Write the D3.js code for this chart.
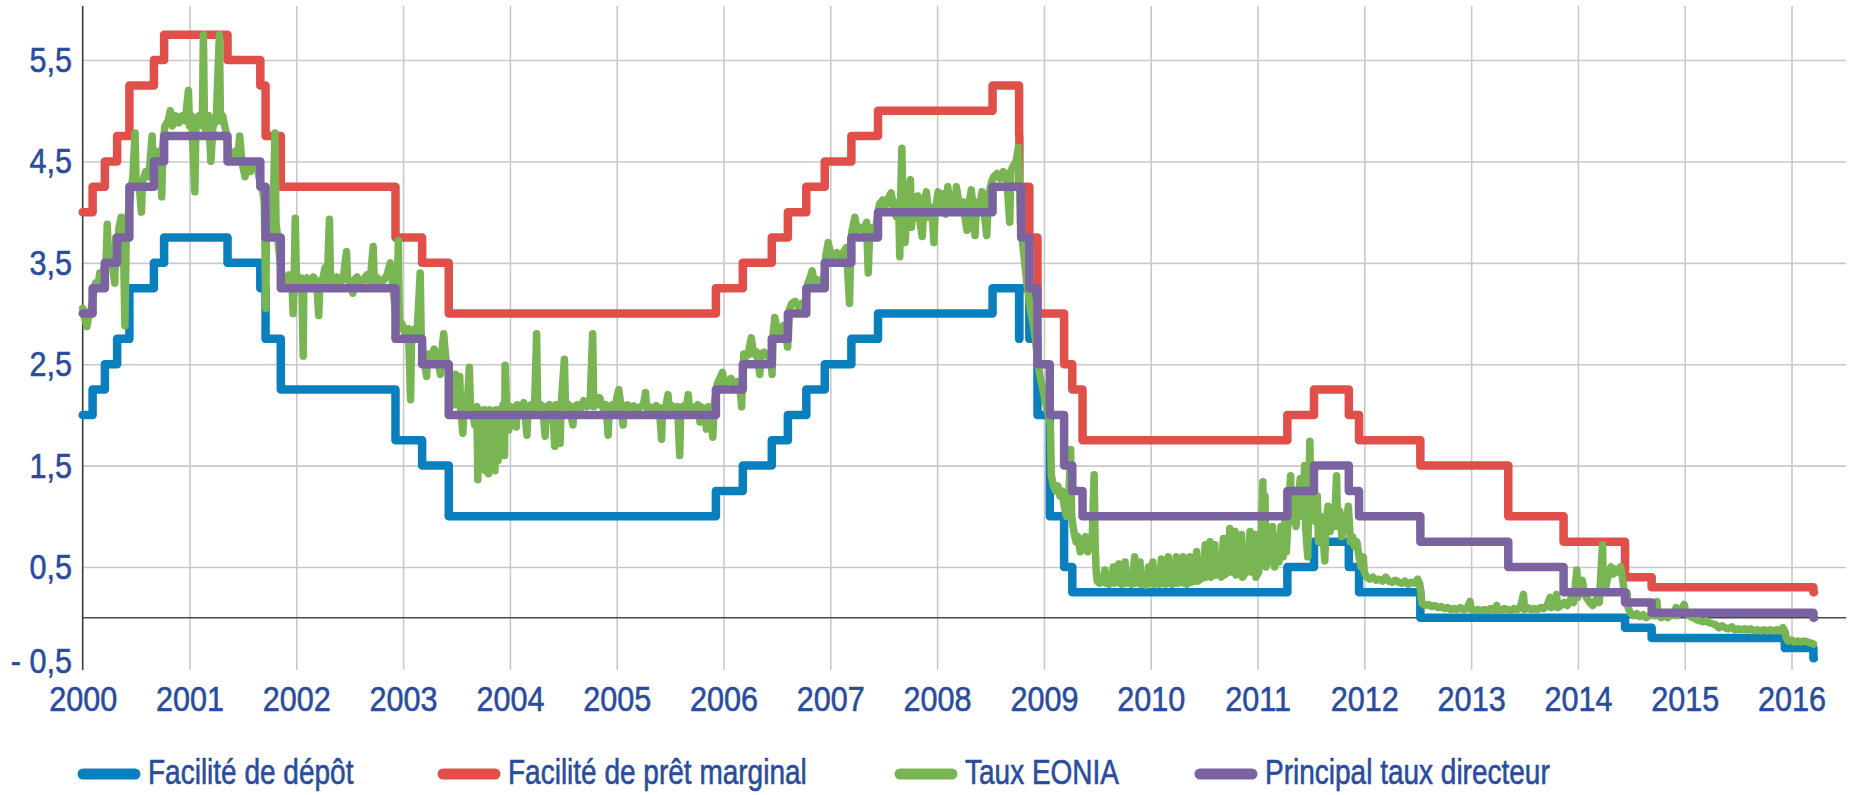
<!DOCTYPE html>
<html>
<head>
<meta charset="utf-8">
<script src="https://cdn.jsdelivr.net/npm/d3@7"></script>
<style>
  html, body { margin: 0; padding: 0; background: #ffffff; }
  svg { display: block; }
  text { font-family: "Liberation Sans", Arial, sans-serif; fill: #2a4c9c; stroke: #2a4c9c; stroke-width: 0.6px; }
</style>
</head>
<body>
<svg id="chart" width="1849" height="795"></svg>
<script>
// ---------------- DATA ----------------
const seriesNames = ["Facilité de dépôt", "Facilité de prêt marginal", "Taux EONIA", "Principal taux directeur"];
const seriesColors = ["#0a7fbd", "#e04f4a", "#79b553", "#7b63a1"];

const yearTicks = [2000, 2001, 2002, 2003, 2004, 2005, 2006, 2007, 2008, 2009, 2010, 2011, 2012, 2013, 2014, 2015, 2016];
const rateTicks = [-0.5, 0.5, 1.5, 2.5, 3.5, 4.5, 5.5];

// ECB policy rates: change dates and values in force from that date
const policyDates = ["2000-01-01","2000-02-04","2000-03-17","2000-04-28","2000-06-09","2000-09-01","2000-10-06",
  "2001-05-11","2001-08-31","2001-09-18","2001-11-09","2002-12-06","2003-03-07","2003-06-06","2005-12-06",
  "2006-03-08","2006-06-15","2006-08-09","2006-10-11","2006-12-13","2007-03-14","2007-06-13","2008-07-09",
  "2008-10-08","2008-10-09","2008-10-15","2008-11-12","2008-12-10","2009-01-21","2009-03-11","2009-04-08",
  "2009-05-13","2011-04-13","2011-07-13","2011-11-09","2011-12-14","2012-07-11","2013-05-08","2013-11-13",
  "2014-06-11","2014-09-10","2015-12-09","2016-03-16","2016-03-18"];
const depositRate = [2.00,2.25,2.50,2.75,3.25,3.50,3.75,
  3.50,3.25,2.75,2.25,1.75,1.50,1.00,1.25,
  1.50,1.75,2.00,2.25,2.50,2.75,3.00,3.25,
  2.75,3.25,3.25,2.75,2.00,1.00,0.50,0.25,
  0.25,0.50,0.75,0.50,0.25,0.00,0.00,0.00,
  -0.10,-0.20,-0.30,-0.40,-0.40];
const marginalRate = [4.00,4.25,4.50,4.75,5.25,5.50,5.75,
  5.50,5.25,4.75,4.25,3.75,3.50,3.00,3.25,
  3.50,3.75,4.00,4.25,4.50,4.75,5.00,5.25,
  4.75,4.25,4.25,3.75,3.00,3.00,2.50,2.25,
  1.75,2.00,2.25,2.00,1.75,1.50,1.00,0.75,
  0.40,0.30,0.30,0.25,0.25];
const mainRate = [3.00,3.25,3.50,3.75,4.25,4.50,4.75,
  4.50,4.25,3.75,3.25,2.75,2.50,2.00,2.25,
  2.50,2.75,3.00,3.25,3.50,3.75,4.00,4.25,
  4.25,4.25,3.75,3.25,2.50,2.00,1.50,1.25,
  1.00,1.25,1.50,1.25,1.00,0.75,0.50,0.25,
  0.15,0.05,0.05,0.00,0.00];

// EONIA: [decimal year, rate]
const eonia = [
[2000.00,3.05],[2000.02,2.95],[2000.04,2.87],[2000.06,3.0],[2000.08,3.05],
[2000.10,3.2],[2000.12,3.3],[2000.14,3.25],[2000.16,3.4],[2000.18,3.3],[2000.20,3.45],
[2000.22,3.55],[2000.23,3.88],[2000.24,3.6],[2000.27,3.55],[2000.30,3.3],[2000.31,3.75],[2000.32,3.6],
[2000.34,3.85],[2000.36,3.95],[2000.38,3.8],[2000.395,2.88],[2000.41,3.9],[2000.43,4.0],
[2000.45,4.2],[2000.47,4.35],[2000.49,4.78],[2000.50,4.3],[2000.53,4.25],[2000.55,4.0],[2000.56,4.3],[2000.59,4.4],[2000.62,4.35],[2000.65,4.75],[2000.66,4.4],
[2000.68,4.55],[2000.70,4.6],[2000.72,4.55],[2000.74,4.15],[2000.75,4.65],
[2000.77,4.85],[2000.80,4.9],[2000.82,5.0],[2000.84,4.85],[2000.87,4.95],[2000.90,4.88],[2000.93,4.95],[2000.96,4.9],[2000.99,5.2],[2001.00,4.85],[2001.02,4.95],[2001.05,4.2],[2001.06,4.85],[2001.09,4.95],[2001.12,4.85],[2001.13,5.75],[2001.14,4.9],[2001.16,4.75],[2001.18,4.95],[2001.20,4.5],[2001.22,4.85],[2001.25,4.9],[2001.28,5.75],[2001.29,4.9],[2001.31,4.95],[2001.34,4.8],
[2001.37,4.6],[2001.40,4.55],[2001.43,4.6],[2001.45,4.5],[2001.47,4.75],[2001.49,4.5],[2001.52,4.35],[2001.54,4.45],[2001.57,4.4],[2001.60,4.5],[2001.63,4.45],[2001.66,4.3],
[2001.68,4.25],[2001.70,4.1],
[2001.715,3.05],[2001.72,3.8],[2001.75,3.75],[2001.78,3.85],[2001.80,4.78],[2001.81,3.9],[2001.84,3.6],[2001.855,3.45],
[2001.87,3.35],[2001.90,3.3],[2001.93,3.38],[2001.96,3.3],[2001.97,3.0],[2001.98,3.35],[2001.99,3.94],[2002.00,3.4],[2002.03,3.3],[2002.05,3.35],[2002.065,2.58],[2002.07,3.3],[2002.10,3.35],[2002.13,3.3],[2002.16,3.36],[2002.19,3.32],[2002.21,2.98],[2002.22,3.3],[2002.25,3.35],[2002.27,3.45],[2002.29,3.32],[2002.31,3.93],[2002.32,3.35],[2002.35,3.3],[2002.38,3.36],[2002.41,3.3],[2002.44,3.35],[2002.47,3.61],[2002.48,3.33],[2002.51,3.3],[2002.53,3.2],[2002.54,3.33],[2002.57,3.36],[2002.60,3.3],[2002.63,3.33],[2002.66,3.38],[2002.69,3.3],[2002.72,3.66],[2002.73,3.3],[2002.76,3.35],[2002.79,3.3],[2002.82,3.33],[2002.85,3.38],[2002.88,3.5],[2002.90,3.3],[2002.92,3.1],
[2002.94,2.9],[2002.955,3.72],[2002.965,2.85],[2002.99,2.9],[2003.02,2.8],[2003.05,2.85],[2003.07,2.15],[2003.08,2.8],[2003.11,2.85],[2003.13,2.78],[2003.16,3.4],[2003.17,2.75],
[2003.19,2.6],[2003.22,2.38],[2003.23,2.6],[2003.26,2.55],[2003.29,2.65],[2003.32,2.58],[2003.35,2.4],[2003.36,2.6],[2003.38,2.8],[2003.40,2.55],[2003.42,2.5],
[2003.45,2.15],[2003.47,2.1],[2003.49,2.4],[2003.50,2.1],[2003.52,2.12],[2003.53,2.38],[2003.54,2.05],[2003.56,1.82],[2003.57,2.1],[2003.60,2.08],[2003.62,2.47],[2003.63,2.1],[2003.65,2.05],[2003.67,1.9],[2003.69,2.08],[2003.70,1.36],[2003.71,2.05],[2003.72,1.5],[2003.73,2.0],[2003.745,1.6],[2003.76,2.05],[2003.77,1.45],[2003.78,2.0],[2003.80,1.42],[2003.81,2.05],[2003.83,1.7],[2003.84,2.0],[2003.86,1.45],[2003.87,2.05],[2003.89,1.55],[2003.90,2.05],[2003.92,1.75],[2003.935,2.1],[2003.95,1.6],[2003.955,2.49],[2003.97,2.05],[2003.99,1.85],[2004.01,2.08],[2004.04,2.05],[2004.06,1.88],[2004.07,2.1],[2004.10,2.05],[2004.13,2.12],[2004.16,1.8],[2004.17,2.08],[2004.20,2.1],[2004.23,2.05],[2004.25,2.8],[2004.26,2.08],[2004.29,2.1],[2004.31,2.05],[2004.33,1.79],[2004.34,2.08],[2004.37,2.1],[2004.40,2.05],[2004.42,1.69],[2004.43,2.1],[2004.45,2.08],[2004.47,1.72],[2004.48,2.1],[2004.51,2.55],[2004.52,2.08],[2004.55,2.1],[2004.59,1.9],[2004.60,2.08],[2004.63,2.1],[2004.66,2.06],[2004.69,2.14],[2004.72,2.08],[2004.75,2.1],[2004.775,2.8],[2004.785,2.08],[2004.81,2.1],[2004.84,2.17],[2004.87,2.07],[2004.90,2.1],[2004.92,1.8],[2004.93,2.08],[2004.96,2.1],[2004.99,2.05],[2005.00,2.17],[2005.02,2.25],[2005.04,2.08],[2005.06,1.9],[2005.07,2.08],[2005.10,2.1],[2005.13,2.07],[2005.16,2.09],[2005.19,2.05],[2005.22,2.08],[2005.25,2.1],[2005.27,2.22],[2005.28,2.07],[2005.31,2.08],[2005.34,2.06],[2005.37,2.09],[2005.40,2.06],[2005.42,1.76],[2005.43,2.07],[2005.46,2.08],[2005.48,2.2],[2005.49,2.07],[2005.52,2.09],[2005.545,2.06],[2005.57,2.08],[2005.59,1.6],[2005.60,2.07],[2005.63,2.09],[2005.65,2.06],[2005.67,2.2],[2005.68,2.07],[2005.71,2.08],[2005.74,2.06],[2005.76,2.1],[2005.78,1.93],[2005.79,2.08],[2005.82,2.06],[2005.84,1.86],[2005.86,2.08],[2005.88,2.05],[2005.90,1.78],[2005.91,2.08],
[2005.94,2.3],[2005.96,2.35],[2005.99,2.42],[2006.01,2.3],[2006.04,2.33],[2006.07,2.36],[2006.10,2.3],[2006.13,2.33],[2006.15,2.32],[2006.17,2.08],[2006.175,2.3],
[2006.19,2.6],[2006.22,2.58],[2006.24,2.65],[2006.26,2.76],[2006.28,2.6],[2006.31,2.62],[2006.34,2.4],[2006.35,2.6],[2006.38,2.62],[2006.41,2.58],[2006.44,2.62],
[2006.455,2.4],[2006.465,2.8],[2006.48,2.96],[2006.50,2.85],[2006.53,2.82],[2006.56,2.88],[2006.58,2.83],[2006.60,2.67],
[2006.62,3.05],[2006.64,3.1],[2006.67,3.12],[2006.70,3.07],[2006.73,3.1],[2006.76,3.05],
[2006.79,3.3],[2006.81,3.35],[2006.83,3.42],[2006.85,3.3],[2006.88,3.33],[2006.91,3.3],[2006.94,3.36],
[2006.96,3.58],[2006.98,3.7],[2007.00,3.6],[2007.03,3.57],[2007.06,3.6],[2007.09,3.56],[2007.12,3.6],[2007.15,3.65],[2007.18,3.1],[2007.19,3.6],
[2007.20,3.8],[2007.23,3.95],[2007.25,3.82],[2007.28,3.85],[2007.31,3.82],[2007.34,3.9],[2007.355,3.4],[2007.37,3.85],[2007.40,3.82],[2007.43,3.88],
[2007.46,4.08],[2007.49,4.12],[2007.52,4.07],[2007.55,4.15],[2007.57,4.19],[2007.59,4.05],[2007.62,3.95],[2007.64,4.1],[2007.65,3.56],[2007.66,4.2],[2007.67,4.63],[2007.68,4.1],[2007.70,3.7],[2007.72,4.1],[2007.75,4.32],[2007.76,3.85],[2007.78,4.15],[2007.80,3.95],[2007.82,4.16],[2007.84,3.9],[2007.86,3.76],[2007.88,4.1],[2007.90,4.2],[2007.92,3.95],[2007.95,4.05],[2007.97,3.7],[2007.98,4.0],[2008.01,4.2],[2008.03,4.05],[2008.06,4.18],[2008.08,3.98],[2008.10,4.25],[2008.12,4.05],[2008.15,4.15],[2008.17,4.0],[2008.18,4.25],[2008.21,4.05],[2008.245,4.1],[2008.26,3.95],[2008.28,3.82],[2008.30,4.1],[2008.32,4.22],[2008.34,4.0],[2008.355,3.77],[2008.37,4.1],[2008.40,4.05],[2008.42,4.2],[2008.44,4.0],[2008.465,3.77],[2008.48,4.15],[2008.51,4.3],
[2008.53,4.35],[2008.56,4.38],[2008.59,4.33],[2008.62,4.4],[2008.65,4.36],[2008.68,3.9],[2008.69,4.4],[2008.71,4.45],[2008.74,4.5],[2008.76,4.64],[2008.77,4.3],[2008.78,3.9],[2008.80,3.7],[2008.82,3.5],[2008.84,3.3],[2008.86,3.15],[2008.88,3.0],[2008.90,2.9],[2008.92,2.75],[2008.94,2.55],[2008.96,2.4],[2008.98,2.3],
[2009.00,2.2],[2009.02,2.1],[2009.04,2.0],[2009.06,1.9],[2009.07,1.4],[2009.09,1.3],[2009.11,1.25],[2009.13,1.3],[2009.15,1.2],[2009.17,1.25],[2009.19,1.1],
[2009.21,1.0],[2009.23,1.1],[2009.25,1.66],[2009.26,1.0],
[2009.28,0.85],[2009.30,0.75],[2009.32,0.8],[2009.34,0.65],
[2009.37,0.75],[2009.39,0.8],[2009.41,0.65],[2009.43,0.78],[2009.45,0.7],[2009.47,1.41],[2009.48,0.7],[2009.49,0.45],[2009.50,0.36],
[2009.52,0.34],[2009.55,0.35],[2009.57,0.47],[2009.58,0.34],[2009.61,0.33],[2009.63,0.36],[2009.65,0.5],[2009.66,0.34],[2009.68,0.35],[2009.70,0.53],[2009.71,0.34],[2009.73,0.33],[2009.76,0.55],[2009.77,0.34],[2009.80,0.35],[2009.82,0.33],[2009.85,0.6],[2009.86,0.34],[2009.88,0.35],[2009.90,0.55],[2009.91,0.33],[2009.94,0.34],[2009.96,0.32],[2009.98,0.5],[2009.99,0.34],[2010.02,0.55],[2010.03,0.33],[2010.06,0.35],[2010.08,0.33],[2010.10,0.58],[2010.11,0.34],[2010.14,0.33],[2010.165,0.6],[2010.175,0.34],[2010.20,0.33],[2010.22,0.35],[2010.24,0.6],[2010.25,0.34],[2010.28,0.35],[2010.305,0.6],[2010.315,0.34],[2010.34,0.33],[2010.37,0.6],[2010.38,0.35],[2010.41,0.36],[2010.43,0.65],[2010.44,0.36],[2010.47,0.38],[2010.49,0.4],[2010.51,0.72],[2010.52,0.4],[2010.555,0.75],[2010.565,0.4],[2010.58,0.45],[2010.60,0.72],[2010.61,0.42],[2010.64,0.45],[2010.66,0.4],[2010.68,0.78],[2010.69,0.42],[2010.72,0.45],[2010.74,0.88],[2010.75,0.45],[2010.77,0.5],[2010.79,0.85],[2010.80,0.42],[2010.83,0.45],[2010.85,0.82],[2010.86,0.4],[2010.89,0.45],[2010.91,0.5],[2010.93,0.85],[2010.94,0.45],[2010.975,0.82],[2010.985,0.4],
[2011.01,0.45],[2011.03,0.65],[2011.05,1.34],[2011.06,0.6],[2011.07,1.2],[2011.08,0.5],[2011.10,0.85],[2011.12,0.55],[2011.14,0.9],[2011.16,0.5],[2011.18,0.8],[2011.20,0.55],[2011.22,0.9],[2011.24,0.6],[2011.26,1.0],[2011.27,0.65],
[2011.29,1.05],[2011.31,1.4],[2011.32,0.95],[2011.34,1.1],[2011.36,0.9],[2011.38,1.15],[2011.40,1.37],[2011.41,1.0],[2011.43,1.1],[2011.44,1.5],[2011.45,0.9],[2011.47,0.6],[2011.48,1.2],[2011.49,1.74],[2011.50,1.1],[2011.52,1.2],
[2011.54,0.95],[2011.56,1.2],[2011.57,0.75],[2011.59,1.0],[2011.61,0.85],[2011.63,0.56],[2011.64,0.9],[2011.66,1.1],[2011.68,0.85],[2011.70,1.0],[2011.72,0.9],[2011.74,1.4],[2011.75,0.9],[2011.77,1.05],[2011.79,0.8],[2011.81,1.0],[2011.83,0.9],[2011.85,1.1],
[2011.87,0.75],[2011.89,0.8],[2011.91,0.7],[2011.93,0.75],
[2011.95,0.6],[2011.97,0.5],[2011.99,0.6],[2012.00,0.45],[2012.02,0.4],[2012.05,0.38],[2012.08,0.4],[2012.11,0.37],[2012.14,0.38],[2012.17,0.36],[2012.20,0.4],[2012.23,0.36],[2012.26,0.35],[2012.29,0.37],[2012.32,0.35],[2012.35,0.34],[2012.38,0.36],[2012.41,0.33],[2012.44,0.35],[2012.47,0.34],[2012.50,0.38],[2012.52,0.33],
[2012.54,0.14],[2012.57,0.12],[2012.60,0.13],[2012.63,0.11],[2012.66,0.12],[2012.69,0.1],[2012.72,0.11],[2012.75,0.09],[2012.78,0.1],[2012.81,0.08],[2012.84,0.09],[2012.87,0.08],[2012.90,0.1],[2012.93,0.08],[2012.96,0.09],[2012.99,0.16],[2013.00,0.08],[2013.03,0.07],[2013.06,0.08],[2013.09,0.07],[2013.12,0.08],[2013.15,0.07],[2013.18,0.09],[2013.21,0.07],[2013.24,0.12],[2013.25,0.08],[2013.28,0.07],[2013.31,0.09],[2013.34,0.08],[2013.37,0.07],[2013.40,0.09],[2013.43,0.08],[2013.46,0.1],[2013.49,0.23],[2013.50,0.08],[2013.53,0.1],[2013.56,0.08],[2013.59,0.09],[2013.62,0.08],[2013.65,0.1],[2013.68,0.09],[2013.71,0.12],[2013.74,0.2],[2013.75,0.1],[2013.77,0.12],[2013.80,0.23],[2013.81,0.1],[2013.84,0.12],
[2013.87,0.15],[2013.90,0.12],[2013.93,0.18],[2013.96,0.15],[2013.99,0.47],[2014.00,0.2],[2014.03,0.3],[2014.04,0.37],[2014.06,0.25],[2014.08,0.2],[2014.11,0.15],[2014.14,0.12],[2014.17,0.18],[2014.20,0.15],[2014.23,0.72],[2014.24,0.25],[2014.26,0.3],[2014.29,0.45],[2014.31,0.5],[2014.33,0.43],[2014.35,0.48],[2014.38,0.45],[2014.40,0.5],[2014.42,0.37],[2014.44,0.2],
[2014.46,0.25],[2014.47,0.1],[2014.49,0.05],[2014.52,0.02],[2014.55,0.04],[2014.58,0.01],[2014.61,0.03],[2014.64,0.0],[2014.67,0.02],
[2014.70,0.05],[2014.72,0.02],[2014.74,0.16],[2014.75,0.03],[2014.78,0.0],[2014.81,0.02],[2014.84,0.0],[2014.87,0.03],[2014.90,0.05],[2014.92,0.1],[2014.93,0.02],[2014.96,0.06],[2014.995,0.13],[2015.01,0.05],[2015.04,0.02],[2015.07,0.0],[2015.10,0.05],[2015.11,-0.02],[2015.14,-0.03],[2015.17,-0.04],[2015.20,-0.03],[2015.23,-0.05],[2015.26,-0.06],[2015.29,-0.07],[2015.32,-0.1],[2015.35,-0.08],[2015.38,-0.1],[2015.41,-0.11],[2015.44,-0.09],[2015.47,-0.12],[2015.50,-0.11],[2015.53,-0.12],[2015.56,-0.11],[2015.59,-0.12],[2015.62,-0.11],[2015.65,-0.13],[2015.68,-0.12],[2015.71,-0.13],[2015.74,-0.12],[2015.77,-0.13],[2015.80,-0.12],[2015.83,-0.13],[2015.86,-0.12],[2015.89,-0.13],[2015.92,-0.1],[2015.94,-0.14],
[2015.95,-0.2],[2015.97,-0.23],[2016.00,-0.22],[2016.03,-0.24],[2016.06,-0.23],[2016.09,-0.24],[2016.12,-0.23],[2016.15,-0.24],[2016.18,-0.25],[2016.205,-0.26]
];

// ---------------- LAYOUT ----------------
const svg = d3.select("#chart");
const X0 = 82.7, X1 = 1846, YT = 6, YB = 670;
const AXIS_FONT = 36, AXIS_SX = 0.85;
const LEG_FONT = 35, LEG_SX = 0.8;

function decimalYear(s) {
  const d = new Date(s + "T00:00:00Z");
  const y = d.getUTCFullYear();
  const a = Date.UTC(y, 0, 1), b = Date.UTC(y + 1, 0, 1);
  return y + (d.getTime() - a) / (b - a);
}

const x = d3.scaleLinear().domain([2000, 2016.51]).range([X0, X1]);
const y = d3.scaleLinear().domain([-0.5, 6.03]).range([668.4, 6.3]);

const locale = d3.formatLocale({ decimal: ",", thousands: " ", grouping: [3], currency: ["", "€"] });
const f1 = locale.format(".1f");
const rateFmt = v => v < 0 ? "- " + f1(-v) : f1(v);

// horizontal gridlines
const gridY = svg.append("g").attr("transform", `translate(${X0},0)`)
  .call(d3.axisLeft(y).tickValues(rateTicks.filter(v => v > 0)).tickSize(-(X1 - X0)).tickFormat(""));
gridY.select(".domain").remove();
gridY.selectAll("line").attr("stroke", "#c9c9cc").attr("stroke-width", 1.6);

// vertical gridlines
const gridX = svg.append("g").attr("transform", `translate(0,${YT})`)
  .call(d3.axisBottom(x).tickValues(yearTicks.slice(1)).tickSize(YB - YT).tickFormat(""));
gridX.select(".domain").remove();
gridX.selectAll("line").attr("stroke", "#c9c9cc").attr("stroke-width", 1.6);

// zero line
svg.append("line").attr("x1", X0).attr("x2", X1).attr("y1", y(0)).attr("y2", y(0))
  .attr("stroke", "#4a4a4a").attr("stroke-width", 1.6);

// y axis line
svg.append("line").attr("x1", X0).attr("x2", X0).attr("y1", YT).attr("y2", YB)
  .attr("stroke", "#3a3a3a").attr("stroke-width", 1.6);

// y labels (condensed by horizontal scaling)
const yAxis = svg.append("g").attr("transform", `translate(${X0},0)`)
  .call(d3.axisLeft(y).tickValues(rateTicks).tickSize(0).tickPadding(12.5).tickFormat(rateFmt));
yAxis.select(".domain").remove();
yAxis.selectAll("text").attr("font-size", AXIS_FONT).attr("fill", "#2a4c9c")
  .attr("transform", `scale(${AXIS_SX},1)`);
yAxis.selectAll(".tick").filter(d => d === -0.5).select("text").attr("dy", "0.12em");

// x labels
const xAxis = svg.append("g").attr("transform", `translate(0,${YB})`)
  .call(d3.axisBottom(x).tickValues(yearTicks).tickSize(0).tickPadding(15).tickFormat(d3.format("d")));
xAxis.select(".domain").remove();
xAxis.selectAll("text").attr("font-size", AXIS_FONT).attr("fill", "#2a4c9c")
  .attr("transform", `scale(${AXIS_SX},1)`);

// ---------------- SERIES ----------------
const policyT = policyDates.map(decimalYear);
const stepLine = d3.line().x(d => x(d[0])).y(d => y(d[1])).curve(d3.curveStepAfter);
const plainLine = d3.line().x(d => x(d[0])).y(d => y(d[1]));

const depositData = policyT.map((t, i) => [t, depositRate[i]]);
const marginalData = policyT.map((t, i) => [t, marginalRate[i]]);
const mainData = policyT.map((t, i) => [t, mainRate[i]]);

const plot = svg.append("g").attr("fill", "none").attr("stroke-linecap", "round").attr("stroke-linejoin", "round");
plot.append("path").datum(depositData).attr("d", stepLine).attr("stroke", seriesColors[0]).attr("stroke-width", 8.5);
plot.append("path").datum(marginalData).attr("d", stepLine).attr("stroke", seriesColors[1]).attr("stroke-width", 8.5);
plot.append("path").datum(eonia).attr("d", plainLine).attr("stroke", seriesColors[2]).attr("stroke-width", 7.5);
plot.append("path").datum(mainData).attr("d", stepLine).attr("stroke", seriesColors[3]).attr("stroke-width", 8.5);

// ---------------- LEGEND ----------------
const legendX = [83, 443, 900, 1200];
const legendY = 774;
const lg = svg.append("g");
seriesNames.forEach((name, i) => {
  const g = lg.append("g").attr("transform", `translate(${legendX[i]},${legendY})`);
  g.append("line").attr("x1", 0).attr("x2", 52).attr("y1", 0).attr("y2", 0)
    .attr("stroke", seriesColors[i]).attr("stroke-width", 11).attr("stroke-linecap", "round");
  g.append("g").attr("transform", `translate(65,0) scale(${LEG_SX},1)`)
    .append("text").attr("x", 0).attr("y", 9.5).attr("font-size", LEG_FONT)
    .attr("fill", "#2a4c9c").text(name);
});
</script>
</body>
</html>
